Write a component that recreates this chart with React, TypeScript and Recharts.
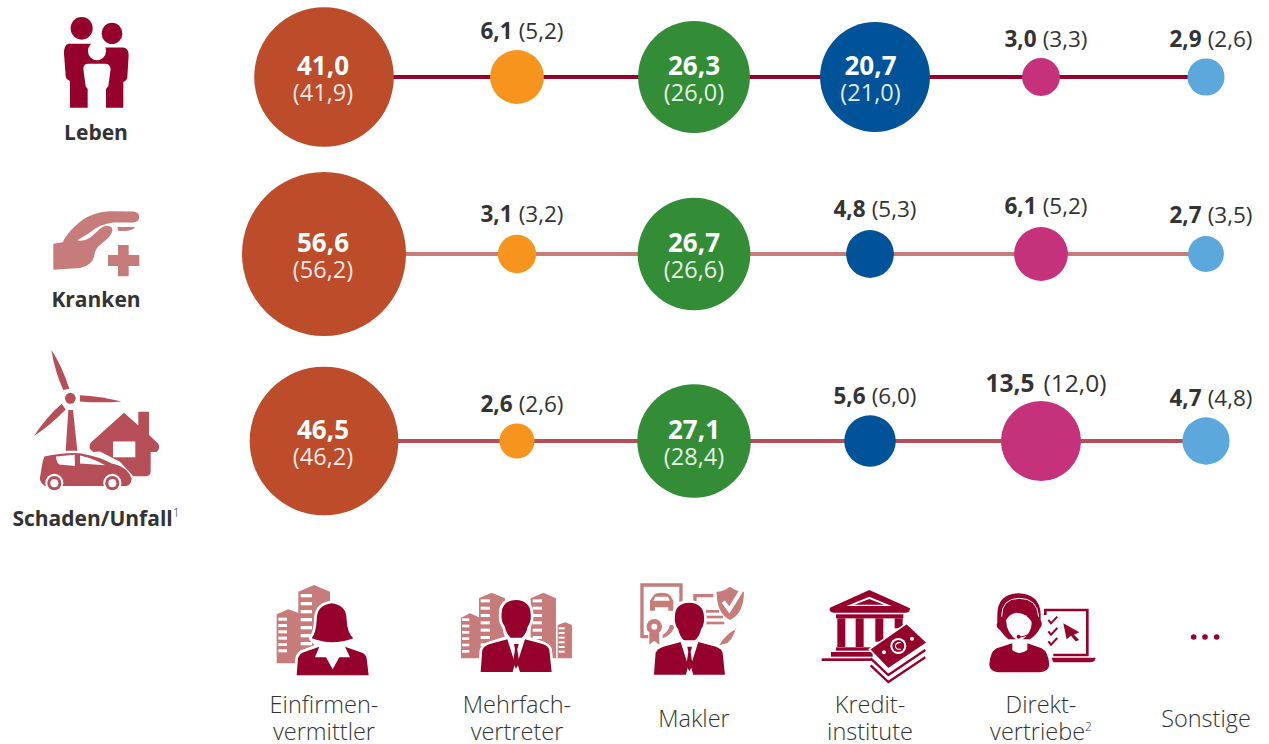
import React from "react";
import { ScatterChart, Scatter, XAxis, YAxis, ZAxis } from "recharts";

const channels = ["Einfirmenvermittler", "Mehrfachvertreter", "Makler", "Kreditinstitute", "Direktvertriebe", "Sonstige"];
const lebenValues = [41.0, 6.1, 26.3, 20.7, 3.0, 2.9];
const lebenPrior = [41.9, 5.2, 26.0, 21.0, 3.3, 2.6];
// drawn bubble size (the bank bubble is drawn larger than its label)
const lebenDrawn = [41.0, 6.1, 26.3, 25.4, 3.0, 2.9];
const krankenValues = [56.6, 3.1, 26.7, 4.8, 6.1, 2.7];
const krankenPrior = [56.2, 3.2, 26.6, 5.3, 5.2, 3.5];
const schadenValues = [46.5, 2.6, 27.1, 5.6, 13.5, 4.7];
const schadenPrior = [46.2, 2.6, 28.4, 6.0, 12.0, 4.8];

const channelColors = ["#bd4c2b", "#f7941e", "#338d36", "#005398", "#c6317c", "#5ca8dd"];
const DARK = "#96002d";
const LIGHT = "#c67c7a";
const MID = "#b54e56";
const TEXT = "#333333";
const FONT = "'Open Sans', sans-serif";

const W = 1269;
const H = 744;
const columnCentres = [324, 517, 694, 870, 1041, 1206];
const lebenColumns = [324, 517, 694, 875, 1041, 1206];
const insideLabelCentres = [323, 517, 694, 870.5, 1041, 1206];
const rowCentres = [77, 254, 441];
const rowLabelGaps = [11, 13, 11];

const fmt = (v: number) => v.toFixed(1).replace(".", ",");

const buildRow = (values: number[], prior: number[], drawn: number[], xs: number[], row: number) =>
  values.map((v, i) => ({ x: xs[i], y: rowCentres[row], z: drawn[i], value: v, prior: prior[i], col: i, row }));

const rows = [
  { color: DARK, data: buildRow(lebenValues, lebenPrior, lebenDrawn, lebenColumns, 0) },
  { color: LIGHT, data: buildRow(krankenValues, krankenPrior, krankenValues, columnCentres, 1) },
  { color: MID, data: buildRow(schadenValues, schadenPrior, schadenValues, columnCentres, 2) },
];

const Bubble = (props: any) => {
  const { cx, cy, width, payload } = props;
  const r = width / 2;
  const inside = payload.value > 20;
  const big = payload.value > 10;
  const lx = insideLabelCentres[payload.col];
  return (
    <g>
      <circle cx={cx} cy={cy} r={r} fill={channelColors[payload.col]} />
      {inside ? (
        <g fontFamily={FONT} textAnchor="middle" fill="#fff">
          <text x={lx} y={cy - 2} fontSize={26} fontWeight={700}>{fmt(payload.value)}</text>
          <text x={lx} y={cy + 24} fontSize={23.5} fillOpacity={0.9}>({fmt(payload.prior)})</text>
        </g>
      ) : (
        <text x={cx + 5} y={cy - r - (big ? 9 : rowLabelGaps[payload.row])} fontFamily={FONT} textAnchor="middle" fill={TEXT} fontSize={big ? 24.5 : 22.5}>
          <tspan fontWeight={700}>{fmt(payload.value)}</tspan>
          <tspan dx={big ? 9 : 6}>({fmt(payload.prior)})</tspan>
        </text>
      )}
    </g>
  );
};

const Stripes = ({ x, w, ys, h = 7 }: { x: number; w: number; ys: number[]; h?: number }) => (
  <g fill="#fff">
    {ys.map((y) => <rect key={y} x={x} y={y} width={w} height={h} />)}
  </g>
);
const steps = (from: number, to: number, step: number) => {
  const out: number[] = [];
  for (let v = from; v <= to; v += step) out.push(v);
  return out;
};

const Man = () => (
  <g>
    <path
      d="M768,90 Q725,92 725,130 Q722,155 735,170 Q738,190 745,205 L690,222 Q672,228 667,240 L662,306 L875,306 L868,240 Q865,228 848,222 L795,205 Q800,190 803,170 Q815,155 812,130 Q810,92 768,90Z"
      fill="#fff" stroke="#fff" strokeWidth={16} strokeLinejoin="round"
    />
    <path
      d="M768,90 Q725,92 725,130 Q722,155 735,170 Q738,190 752,203 L785,203 Q800,190 803,170 Q815,155 812,130 Q810,92 768,90Z"
      fill={DARK}
    />
    <path d="M742,208 L765,280 L758,306 L662,306 L667,240 Q672,228 690,222Z" fill={DARK} />
    <path d="M795,208 L772,280 L780,306 L875,306 L868,240 Q865,228 848,222Z" fill={DARK} />
    <path d="M762,222 L776,222 L772,238 L778,278 L768,296 L759,278 L765,238Z" fill={DARK} />
  </g>
);

const ChannelIcon = ({ col }: { col: number }) => {
  if (col === 0)
    return (
      <g transform="translate(260,570) scale(0.3333)">
        <path d="M50,133 L85,118 L118,130 L118,280 L50,280Z" fill={LIGHT} />
        <path d="M115,65 L162,45 L210,65 L210,280 L115,280Z" fill={LIGHT} />
        <Stripes x={55} w={26} ys={steps(143, 255, 19)} h={9} />
        <Stripes x={122} w={34} ys={steps(72, 260, 24)} h={10} />
        <path
          d="M215,100 Q170,105 170,150 Q168,190 155,205 L178,228 L135,245 Q118,250 114,265 L110,316 L326,316 L320,265 Q318,250 298,245 L255,228 L280,205 Q262,190 260,150 Q260,105 215,100Z"
          fill="#fff" stroke="#fff" strokeWidth={16} strokeLinejoin="round"
        />
        <path d="M215,100 Q170,105 170,150 Q168,190 155,205 Q190,217 215,217 Q250,217 280,205 Q262,190 260,150 Q260,105 215,100Z" fill={DARK} />
        <path d="M110,316 L114,265 Q118,250 135,245 L178,230 L165,262 L198,262 L218,298 L238,262 L270,262 L255,230 L298,245 Q318,250 320,265 L326,316Z" fill={DARK} />
      </g>
    );
  if (col === 1)
    return (
      <g transform="translate(260,570) scale(0.3333)">
        <path d="M603,143 L630,130 L660,143 L660,265 L603,265Z" fill={LIGHT} />
        <path d="M657,85 L695,68 L735,85 L735,265 L657,265Z" fill={LIGHT} />
        <path d="M812,85 L850,68 L888,85 L888,265 L812,265Z" fill={LIGHT} />
        <path d="M893,165 L915,157 L936,165 L936,265 L893,265Z" fill={LIGHT} />
        <Stripes x={606} w={22} ys={steps(145, 250, 19)} h={8} />
        <Stripes x={662} w={28} ys={steps(88, 240, 22)} h={9} />
        <Stripes x={818} w={28} ys={steps(88, 240, 22)} h={9} />
        <Stripes x={896} w={18} ys={steps(172, 255, 14)} h={6} />
        <Man />
      </g>
    );
  if (col === 2)
    return (
      <g transform="translate(260,570) scale(0.3333)">
        <path d="M1263,95 L1263,45 L1146,45 L1146,200 L1165,200" fill="none" stroke={LIGHT} strokeWidth={10} />
        <path d="M1180,78 Q1185,68 1205,68 Q1225,68 1232,78 L1240,92 L1240,122 L1225,122 L1225,112 L1185,112 L1185,122 L1170,122 L1170,92Z" fill={LIGHT} />
        <path d="M1186,80 L1224,80 L1230,92 L1180,92Z" fill="#fff" />
        <circle cx={1183} cy={170} r={23} fill={LIGHT} />
        <path d="M1168,188 L1168,224 L1183,212 L1198,224 L1198,188Z" fill={LIGHT} />
        <circle cx={1183} cy={170} r={9} fill="#fff" />
        <path d="M1300,72 L1360,72 L1360,82 L1310,82 L1310,95 L1300,95Z" fill={LIGHT} />
        <rect x={1337} y={120} width={40} height={8} fill={LIGHT} />
        <rect x={1337} y={137} width={52} height={8} fill={LIGHT} />
        <rect x={1337} y={155} width={56} height={8} fill={LIGHT} />
        <path d="M1410,50 Q1390,65 1370,65 Q1370,130 1410,150 Q1452,130 1452,65 Q1430,65 1410,50Z" fill={LIGHT} />
        <path d="M1390,95 L1408,120 L1446,58" fill="none" stroke="#fff" strokeWidth={12} />
        <path d="M1430,150 L1428,178 Q1400,190 1378,225 L1402,220 Q1430,195 1430,150Z" fill={LIGHT} />
        <path d="M1245,165 Q1240,192 1208,205 L1208,195 Q1225,185 1230,165Z" fill={LIGHT} />
        <g transform="translate(520,8)"><Man /></g>
      </g>
    );
  if (col === 3)
    return (
      <g transform="translate(800,570) scale(0.3333)" fill={DARK}>
        <path d="M208,60 L330,115 Q330,128 318,128 L100,128 Q85,125 90,113Z" />
        <path d="M208,80 L275,108 L140,108Z M208,87 L163,104 L252,104Z" fill="#fff" fillRule="evenodd" />
        <rect x={108} y={133} width={202} height={12} />
        <rect x={112} y={145} width={24} height={86} />
        <rect x={167} y={145} width={24} height={86} />
        <rect x={226} y={145} width={24} height={70} />
        <rect x={284} y={145} width={24} height={30} />
        <rect x={108} y={232} width={122} height={10} />
        <rect x={93} y={246} width={125} height={14} />
        <rect x={65} y={265} width={150} height={8} />
        <polyline points="212,265 265,315 376,240" fill="none" stroke={DARK} strokeWidth={7} />
        <polyline points="212,286 265,336 376,262" fill="none" stroke={DARK} strokeWidth={7} />
        <path d="M320,160 L382,218 L265,297 L208,238Z" stroke="#fff" strokeWidth={5} />
        <circle cx={295} cy={228} r={24} fill="#fff" />
        <circle cx={295} cy={228} r={18} />
        <circle cx={252} cy={247} r={6} fill="#fff" />
        <circle cx={336} cy={206} r={6} fill="#fff" />
        <path d="M302,218 Q288,216 286,228 Q288,240 302,238" fill="none" stroke="#fff" strokeWidth={3.5} />
      </g>
    );
  if (col === 4)
    return (
      <g transform="translate(800,570) scale(0.3333)" fill={DARK}>
        <path d="M655,70 Q592,72 592,135 L592,158 Q585,170 600,180 Q610,195 625,208 L690,208 Q710,195 720,175 Q730,165 722,150 L722,130 Q718,72 655,70Z" />
        <path d="M605,140 Q605,85 658,85 Q712,85 716,140" fill="none" stroke="#fff" strokeWidth={3} />
        <path d="M618,150 Q630,130 650,128 Q680,130 695,155 Q695,195 657,214 Q620,195 618,150Z" fill="#fff" />
        <path d="M655,202 Q672,200 690,192" fill="none" stroke={DARK} strokeWidth={3} />
        <circle cx={656} cy={200} r={6} />
        <path d="M568,285 Q570,245 590,235 L637,220 L637,240 Q658,258 682,240 L682,220 L725,235 Q745,245 748,285 Q745,305 720,307 L595,307 Q570,305 568,285Z" />
        <path d="M736,135 L736,120 L862,120 L862,255 L760,255" fill="none" stroke={DARK} strokeWidth={8} />
        <path d="M755,263 L887,263 Q885,277 870,277 L760,277Z" />
        <g fill="none" stroke={DARK} strokeWidth={6}>
          <polyline points="745,150 753,160 772,140" />
          <polyline points="745,184 753,194 772,174" />
          <polyline points="745,214 753,224 772,204" />
        </g>
        <path d="M790,160 L838,187 L822,194 L838,210 L827,214 L813,197 L800,208Z" />
      </g>
    );
  return (
    <g fill={DARK}>
      <circle cx={1193.7} cy={637} r={2.8} />
      <circle cx={1205} cy={637} r={2.8} />
      <circle cx={1216.7} cy={637} r={2.8} />
    </g>
  );
};

const columnLabels = [["Einfirmen-", "vermittler"], ["Mehrfach-", "vertreter"], ["Makler"], ["Kredit-", "institute"], ["Direkt-", "vertriebe"], ["Sonstige"]];

const ColumnTick = (props: any) => {
  const col = columnCentres.indexOf(props.payload.value);
  const lines = columnLabels[col];
  const ys = lines.length === 2 ? [713, 740] : [727];
  return (
    <g>
      <ChannelIcon col={col} />
      <text fontFamily={FONT} fontSize={23.5} fill={TEXT} textAnchor="middle" fontWeight={300}>
        {lines.map((line, i) => (
          <tspan key={line} x={props.payload.value} y={ys[i]}>
            {line}
            {col === 4 && i === 1 ? <tspan fontSize={12} dy={-9}>2</tspan> : null}
          </tspan>
        ))}
      </text>
    </g>
  );
};

const rowLabels = ["Leben", "Kranken", "Schaden/Unfall"];
const rowLabelBaselines = [140, 307, 526];

const RowIcon = ({ row }: { row: number }) => {
  if (row === 0)
    return (
      <g transform="scale(0.3333,0.3446)" fill={DARK}>
        <circle cx={245} cy={82} r={33} />
        <circle cx={336} cy={97} r={31} />
        <path d="M205,127 L275,127 L305,138 L370,138 Q386,140 386,160 L382,225 Q380,235 370,238 L370,313 L318,313 L318,258 L325,250 L332,200 Q330,185 315,185 L265,185 Q250,185 250,200 L257,250 L263,258 L263,313 L210,313 L210,235 Q197,230 197,220 L192,155 Q192,130 205,127Z" />
        <circle cx={291} cy={148} r={27} fill="#fff" />
      </g>
    );
  if (row === 1)
    return (
      <g transform="scale(0.3333,0.3446)" fill={LIGHT}>
        <path d="M160,707 L188,703 Q205,670 245,640 Q280,615 330,613 L400,614 Q418,616 418,630 Q416,645 400,646 L340,646 Q300,650 270,675 L232,697 Q250,702 270,690 L305,660 Q322,650 335,660 Q342,672 325,690 L295,715 Q285,725 282,745 Q275,770 240,778 L160,783Z" />
        <path d="M352,659 L405,659 Q400,670 375,670 L355,670Z" />
        <path d="M354,711 L386,711 L386,740 L418,740 L418,772 L386,772 L386,802 L354,802 L354,772 L324,772 L324,740 L354,740Z" />
      </g>
    );
  return (
    <g transform="scale(0.3333,0.3446)" fill={MID}>
      <path d="M154,1016 Q185,1060 208,1128 L190,1132 Q165,1080 154,1016Z" />
      <path d="M240,1147 Q300,1150 365,1165 Q300,1170 240,1165Z" />
      <path d="M102,1265 Q140,1210 185,1172 L197,1188 Q150,1235 102,1265Z" />
      <circle cx={211} cy={1156} r={16} />
      <path d="M205,1190 L219,1190 L232,1308 L197,1308Z" />
      <path d="M372,1198 L415,1235 L415,1195 L447,1195 L447,1262 L475,1288 Q482,1300 470,1312 L452,1312 L452,1370 Q450,1382 440,1382 L400,1382 L360,1340 L300,1310 L280,1312 Q262,1300 272,1285Z" />
      <rect x={339} y={1281} width={67} height={46} fill="#fff" />
      <path d="M133,1325 Q190,1312 240,1315 Q300,1325 335,1345 Q385,1355 395,1390 Q392,1408 380,1410 L135,1410 Q118,1400 120,1385 L128,1340Z" stroke="#fff" strokeWidth={6} paintOrder="stroke" />
      <path d="M168,1325 L224,1320 L225,1352 L178,1348 Q170,1345 168,1325Z" fill="#fff" />
      <path d="M240,1322 Q280,1330 315,1350 L240,1345Z" fill="#fff" />
      {[163, 337].map((x) => (
        <g key={x}>
          <circle cx={x} cy={1402} r={27} fill="#fff" />
          <circle cx={x} cy={1402} r={21} />
          <circle cx={x} cy={1402} r={12} fill="#fff" />
        </g>
      ))}
    </g>
  );
};

const RowTick = (props: any) => {
  const row = rowCentres.indexOf(props.payload.value);
  return (
    <g>
      <RowIcon row={row} />
      <text x={96} y={rowLabelBaselines[row]} fontFamily={FONT} fontSize={21} fontWeight={700} fill={TEXT} textAnchor="middle">
        {rowLabels[row]}
        {row === 2 ? <tspan fontSize={12} dy={-9} fontWeight={300}>1</tspan> : null}
      </text>
    </g>
  );
};

export default function App() {
  return (
    <div style={{ position: "absolute", left: 0, top: 0, width: W, height: H, background: "#fff" }}>
      <ScatterChart width={W} height={H} margin={{ top: 0, right: 0, bottom: 0, left: 0 }} aria-label={channels.join(", ")}>
        <XAxis type="number" dataKey="x" domain={[0, W]} ticks={columnCentres} interval={0} mirror axisLine={false} tickLine={false} tick={<ColumnTick />} />
        <YAxis type="number" dataKey="y" domain={[0, H]} reversed ticks={rowCentres} interval={0} mirror axisLine={false} tickLine={false} tick={<RowTick />} />
        <ZAxis type="number" dataKey="z" domain={[0, 60]} range={[0, 22395]} />
        {rows.map((row, i) => (
          <Scatter key={i} data={row.data} isAnimationActive={false} line={{ stroke: row.color, strokeWidth: 4 }} lineType="joint" shape={<Bubble />} />
        ))}
      </ScatterChart>
    </div>
  );
}
